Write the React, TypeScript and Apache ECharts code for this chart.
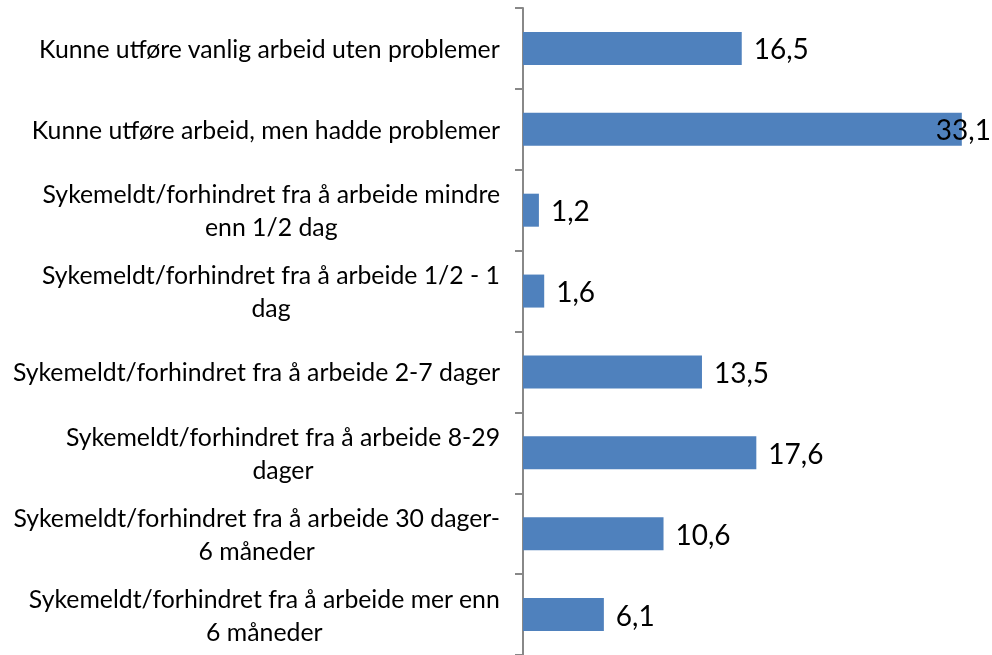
import React, { useEffect, useRef } from "react";
import * as echarts from "echarts";

const categories: string[] = [
  "Kunne utføre vanlig arbeid uten problemer",
  "Kunne utføre arbeid, men hadde problemer",
  "Sykemeldt/forhindret fra å arbeide mindre\nenn 1/2 dag",
  "Sykemeldt/forhindret fra å arbeide 1/2 - 1\ndag",
  "Sykemeldt/forhindret fra å arbeide 2-7 dager",
  "Sykemeldt/forhindret fra å arbeide 8-29\ndager",
  "Sykemeldt/forhindret fra å arbeide 30 dager-\n6 måneder",
  "Sykemeldt/forhindret fra å arbeide mer enn\n6 måneder",
];

const values: number[] = [16.5, 33.1, 1.2, 1.6, 13.5, 17.6, 10.6, 6.1];

const FONT = "Lato";

export default function App() {
  const ref = useRef<HTMLDivElement>(null);

  useEffect(() => {
    document.body.style.margin = "0";
    if (!ref.current) return;
    const chart = echarts.init(ref.current, undefined, { renderer: "svg" });
    const maxIdx = values.indexOf(Math.max(...values));
    chart.setOption({
      animation: false,
      grid: { left: 523, top: 8, height: 648, right: 5, containLabel: false },
      xAxis: {
        type: "value",
        min: 0,
        max: 35,
        show: false,
      },
      yAxis: {
        type: "category",
        inverse: true,
        data: categories,
        axisLine: { show: true, lineStyle: { color: "#888888", width: 2 } },
        axisTick: { show: true, length: 8, lineStyle: { color: "#888888", width: 2 } },
        axisLabel: {
          margin: 23,
          formatter: (v: string) =>
            v
              .split("\n")
              .map((l) => `{c|${l}}`)
              .join("\n"),
          rich: {
            c: {
              align: "center",
              fontFamily: FONT,
              fontSize: 24.8,
              color: "#000",
              lineHeight: 33,
            },
          },
        },
      },
      series: [
        {
          type: "bar",
          data: values.map((v, i) =>
            i === maxIdx
              ? { value: v, label: { offset: [-38, 0] } }
              : v
          ),
          barWidth: 33,
          itemStyle: { color: "#4F81BD" },
          label: {
            show: true,
            position: "right",
            distance: 12,
            fontFamily: FONT,
            fontSize: 28,
            color: "#000",
            formatter: (p: any) => Number(p.value).toFixed(1).replace(".", ","),
          },
        },
      ],
    });
    return () => chart.dispose();
  }, []);

  return (
    <div
      ref={ref}
      style={{ position: "fixed", left: 0, top: 0, width: 992, height: 655 }}
    />
  );
}
